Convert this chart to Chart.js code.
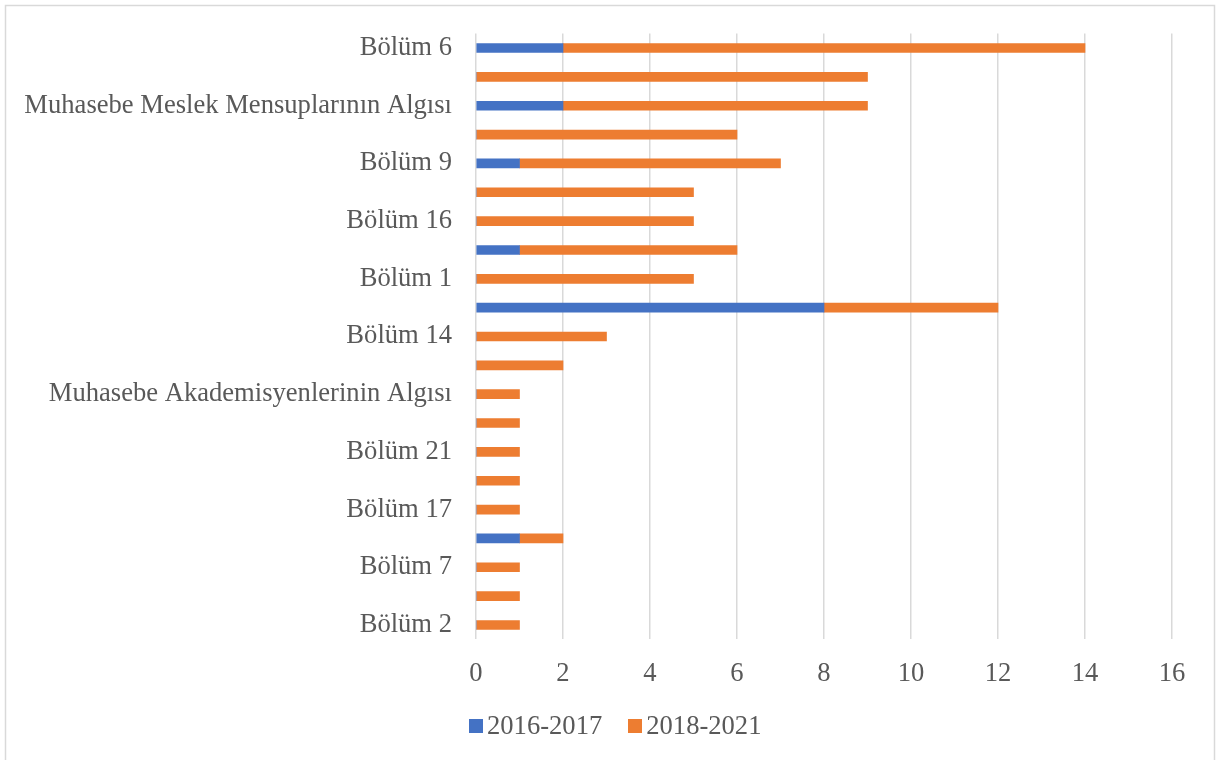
<!DOCTYPE html>
<html>
<head>
<meta charset="utf-8">
<script src="https://cdn.jsdelivr.net/npm/chart.js@4"></script>
<style>
  body { margin: 0; background: #fff; }
  #wrap { position: relative; width: 1216px; height: 760px; }
  #legend { position: absolute; left: 469px; top: 710px; display: flex; font-family: 'Liberation Serif', serif; font-size: 26.6px; color: #595959; }
  .item { display: flex; align-items: center; margin-right: 26px; }
  .box { width: 14px; height: 14px; margin-right: 4px; }
</style>
</head>
<body>
<div id="wrap">
  <canvas id="grafica" width="1216" height="760"></canvas>
  <div id="legend"></div>
</div>
<script>
// Datos
const categorias = [
  'Bölüm 6', 'Bölüm 5', 'Muhasebe Meslek Mensuplarının Algısı', 'Bölüm 8', 'Bölüm 9',
  'Bölüm 13', 'Bölüm 16', 'Bölüm 12', 'Bölüm 1', 'Bölüm 3', 'Bölüm 14', 'Bölüm 11',
  'Muhasebe Akademisyenlerinin Algısı', 'Bölüm 20', 'Bölüm 21', 'Bölüm 19', 'Bölüm 17',
  'Bölüm 10', 'Bölüm 7', 'Bölüm 4', 'Bölüm 2'
]
const serie2016 = [2, 0, 2, 0, 1, 0, 0, 1, 0, 8, 0, 0, 0, 0, 0, 0, 0, 1, 0, 0, 0]
const serie2018 = [12, 9, 7, 6, 6, 5, 5, 5, 5, 4, 3, 2, 1, 1, 1, 1, 1, 1, 1, 1, 1]
const seriesNombres = ['2016-2017', '2018-2021']
const ticksX = [0, 2, 4, 6, 8, 10, 12, 14, 16]

const COLORS = { blue: '#4472C4', orange: '#ED7D31', text: '#595959', grid: '#d9d9d9' }
const FONT = { family: "'Liberation Serif', 'Times New Roman', serif", size: 26.6 }

const marco = {
  id: 'marco',
  beforeDraw(chart) {
    const ctx = chart.ctx
    ctx.save()
    ctx.fillStyle = '#fff'
    ctx.fillRect(0, 0, chart.width, chart.height)
    ctx.strokeStyle = '#d9d9d9'
    ctx.lineWidth = 1.5
    ctx.strokeRect(5.5, 5.5, 1209, 800)
    ctx.restore()
  }
}

const chart = new Chart(document.getElementById('grafica'), {
  type: 'bar',
  data: {
    labels: categorias,
    datasets: [
      { label: seriesNombres[0], data: serie2016, backgroundColor: COLORS.blue, barThickness: 9 },
      { label: seriesNombres[1], data: serie2018, backgroundColor: COLORS.orange, barThickness: 9 }
    ]
  },
  options: {
    indexAxis: 'y',
    responsive: false,
    animation: false,
    layout: { padding: { top: 33.6, right: 44, left: 0, bottom: 0 } },
    plugins: { legend: { display: false }, tooltip: { enabled: false } },
    scales: {
      x: {
        stacked: true,
        min: 0, max: 16,
        afterBuildTicks(scale) { scale.ticks = ticksX.map(v => ({ value: v })) },
        afterFit(scale) { scale.height = 120.6 },
        grid: { color: COLORS.grid, lineWidth: 1.5, drawTicks: false },
        border: { display: false },
        ticks: { color: COLORS.text, font: FONT, padding: 19 }
      },
      y: {
        stacked: true,
        afterFit(scale) {
          scale.width = 476
          scale.paddingTop = 0
          scale.paddingBottom = 0
        },
        grid: { display: false, drawTicks: false },
        border: { display: false },
        ticks: {
          color: COLORS.text, font: FONT, padding: 24, autoSkip: false,
          callback: function(v, i) { return i % 2 === 0 ? this.getLabelForValue(v) : '' }
        }
      }
    }
  },
  plugins: [marco]
})

// Leyenda
const leyenda = document.getElementById('legend')
chart.data.datasets.forEach(function(ds) {
  const item = document.createElement('div')
  item.className = 'item'
  item.innerHTML = '<span class="box" style="background:' + ds.backgroundColor + '"></span><span>' + ds.label + '</span>'
  leyenda.appendChild(item)
})
</script>
</body>
</html>
